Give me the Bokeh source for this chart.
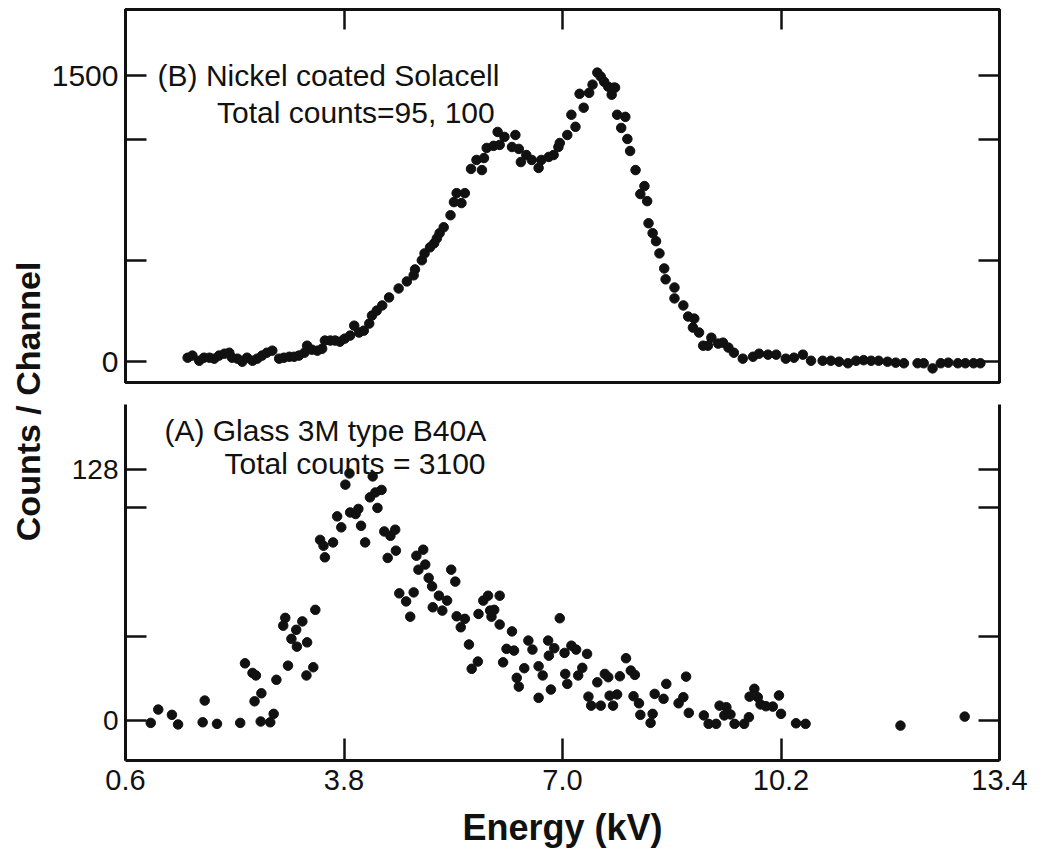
from math import pi
from bokeh.plotting import figure
from bokeh.models import (Range1d, LinearAxis, FixedTicker, Label,
                          CustomJSTickFormatter)
from bokeh.layouts import row, column
from bokeh.embed import file_html
from bokeh.resources import INLINE

# ---------------- data ----------------
x_ticks = [0.6, 3.8, 7.0, 10.2, 13.4]
x_tick_labels = ["0.6", "3.8", "7.0", "10.2", "13.4"]

top_y_ticks = [0, 532, 1164, 1500]
top_y_tick_labels = ["0", "", "", "1500"]
bottom_y_ticks = [0, 42.8, 108.7, 128]
bottom_y_tick_labels = ["0", "", "", "128"]

# (B) Nickel coated Solacell
top_energy = [1.51, 1.58, 1.68, 1.75, 1.83, 1.90, 1.97, 2.05, 2.12, 2.16, 2.24, 2.31, 2.38, 2.46,
              2.53, 2.60, 2.67, 2.75, 2.85, 2.92, 3.00, 3.07, 3.14, 3.22, 3.26, 3.33, 3.41, 3.48,
              3.52, 3.60, 3.67, 3.74, 3.81, 3.89, 3.95, 4.02, 4.09, 4.17, 4.21, 4.28, 4.36, 4.46,
              4.60, 4.72, 4.82, 4.84, 4.94, 4.98, 5.06, 5.12, 5.16, 5.20, 5.26, 5.36, 5.41, 5.45,
              5.52, 5.57, 5.66, 5.74, 5.82, 5.85, 5.89, 5.99, 6.05, 6.08, 6.15, 6.26, 6.31, 6.36,
              6.39, 6.47, 6.55, 6.65, 6.69, 6.80, 6.87, 6.94, 6.96, 7.07, 7.13, 7.19, 7.25, 7.31,
              7.39, 7.44, 7.51, 7.56, 7.61, 7.67, 7.72, 7.75, 7.77, 7.80, 7.86, 7.92, 7.95, 7.99,
              8.07, 8.14, 8.20, 8.24, 8.26, 8.32, 8.37, 8.42, 8.49, 8.51, 8.64, 8.64, 8.77, 8.84,
              8.91, 8.93, 9.00, 9.06, 9.13, 9.18, 9.28, 9.35, 9.43, 9.51, 9.64, 9.79, 9.88, 10.01,
              10.13, 10.27, 10.39, 10.52, 10.64, 10.81, 10.93, 11.05, 11.18, 11.30, 11.41, 11.52,
              11.63, 11.76, 11.88, 12.00, 12.20, 12.29, 12.42, 12.54, 12.65, 12.79, 12.90, 13.02,
              13.12]
top_counts = [21, 32, 5, 21, 21, 16, 32, 42, 47, 21, 16, 0, 21, 5,
              16, 32, 47, 58, 16, 21, 26, 26, 32, 47, 84, 63, 58, 68,
              111, 111, 111, 105, 121, 137, 189, 153, 163, 200, 242, 268, 295, 337,
              384, 421, 453, 484, 532, 568, 600, 621, 647, 674, 705, 768, 837, 884,
              832, 884, 1011, 1058, 1005, 1068, 1121, 1132, 1205, 1137, 1179, 1126, 1189, 1116,
              1047, 1084, 1058, 1016, 1058, 1074, 1084, 1126, 1147, 1189, 1295, 1232, 1405, 1332,
              1410, 1453, 1516, 1495, 1468, 1442, 1400, 1437, 1437, 1295, 1226, 1284, 1168, 1105,
              1005, 879, 921, 842, 726, 674, 632, 568, 489, 432, 389, 332, 295, 237,
              179, 226, 153, 84, 84, 126, 95, 100, 74, 47, 16, 26, 42, 37,
              37, 16, 21, 37, 5, 5, 5, 0, -8, 5, 8, 5,
              5, 0, -5, -8, -8, -8, -35, -8, -5, -8, -8, -8,
              -8]

# (A) Glass 3M type B40A
bottom_energy = [0.97, 1.08, 1.28, 1.37, 1.73, 1.76, 1.94, 2.28, 2.35, 2.46, 2.51, 2.49, 2.59, 2.58,
                 2.72, 2.77, 2.81, 2.91, 2.94, 2.98, 3.03, 3.10, 3.11, 3.19, 3.26, 3.25, 3.35, 3.38,
                 3.45, 3.50, 3.64, 3.52, 3.70, 3.76, 3.82, 3.88, 3.89, 3.97, 4.01, 4.05, 4.11, 4.22,
                 4.18, 4.26, 4.35, 4.29, 4.39, 4.48, 4.55, 4.44, 4.56, 4.61, 4.71, 4.82, 4.77, 4.86,
                 4.96, 4.89, 4.99, 5.04, 5.09, 5.10, 5.19, 5.31, 5.24, 5.37, 5.43, 5.45, 5.57, 5.51,
                 5.63, 5.67, 5.76, 5.77, 5.84, 5.91, 5.94, 6.00, 5.96, 6.08, 6.08, 6.13, 6.18, 6.29,
                 6.26, 6.33, 6.36, 6.50, 6.56, 6.44, 6.65, 6.71, 6.65, 6.79, 6.88, 6.80, 6.83, 6.96,
                 7.03, 7.13, 7.20, 7.36, 7.04, 7.07, 7.23, 7.29, 7.38, 7.42, 7.56, 7.51, 7.62, 7.67,
                 7.69, 7.80, 7.74, 7.84, 7.93, 8.00, 8.06, 8.04, 8.12, 8.14, 8.29, 8.32, 8.35, 8.48,
                 8.52, 8.70, 8.77, 8.81, 8.85, 9.07, 9.14, 9.25, 9.30, 9.40, 9.37, 9.46, 9.52, 9.66,
                 9.73, 9.74, 9.81, 9.86, 9.90, 9.98, 10.08, 10.17, 10.20, 10.42, 10.56, 11.95, 12.89]
bottom_counts = [-1.2, 5.6, 2.9, -2.0, -0.9, 10.2, -1.7, -1.2, 29.2, 24.3, 23.0, 9.8, 13.9, -0.5,
                 -0.9, 3.4, 20.8, 48.4, 52.4, 28.0, 41.7, 46.3, 37.7, 50.6, 39.9, 23.0, 27.2, 56.5,
                 92.2, 89.2, 90.9, 83.3, 104.2, 98.6, 120.4, 126.1, 106.2, 105.4, 108.0, 99.4, 90.9, 124.6,
                 113.9, 116.4, 117.7, 108.5, 96.5, 94.3, 97.4, 83.0, 86.7, 64.9, 60.8, 65.4, 53.0, 84.1,
                 87.2, 77.0, 79.6, 72.8, 68.5, 57.8, 63.7, 61.2, 56.1, 77.0, 70.9, 53.2, 51.9, 47.6,
                 38.8, 26.4, 30.1, 54.4, 61.2, 63.7, 56.1, 56.5, 53.0, 63.7, 49.0, 29.7, 36.6, 35.7,
                 45.5, 21.8, 17.3, 40.8, 36.2, 26.7, 27.7, 23.0, 11.6, 40.8, 36.9, 33.1, 15.8, 52.2,
                 34.5, 38.2, 36.2, 34.0, 23.8, 18.7, 23.0, 26.9, 12.2, 7.6, 7.6, 19.5, 23.8, 22.1,
                 12.7, 13.3, 7.6, 22.6, 31.8, 25.5, 23.3, 12.4, 8.8, 2.9, -1.2, 3.4, 13.6, 11.1,
                 18.7, 8.8, 11.9, 22.4, 3.9, 2.6, -1.7, -1.7, 7.6, 6.8, 2.6, 3.1, -1.7, -1.7,
                 1.7, 12.2, 16.2, 11.9, 8.2, 7.3, 7.1, 12.8, 3.4, -1.4, -1.7, -2.6, 2.0]

# ---------------- style ----------------
FONT = "Liberation Sans"
INK = "#111111"


def fmt(vals, labs):
    return CustomJSTickFormatter(
        args=dict(vals=vals, labs=labs),
        code="""
        for (let i = 0; i < vals.length; i++) {
            if (Math.abs(vals[i] - tick) < 1e-6) { return labs[i]; }
        }
        return "";
        """)


def style(ax, ticks, labels, size="30px", tick_len=21, standoff=7):
    ax.ticker = FixedTicker(ticks=ticks)
    ax.formatter = fmt(ticks, labels)
    ax.major_tick_in = tick_len
    ax.major_tick_out = 0
    ax.minor_tick_line_color = None
    ax.axis_line_width = 3
    ax.axis_line_color = INK
    ax.major_tick_line_width = 2.5
    ax.major_tick_line_color = INK
    ax.major_label_text_font = FONT
    ax.major_label_text_font_size = size
    ax.major_label_text_color = INK
    ax.major_label_standoff = standoff


def blank(ax, ticks, tick_len=21):
    style(ax, ticks, [""] * len(ticks), size="1px", tick_len=tick_len, standoff=0)


x_range = Range1d(x_ticks[0], x_ticks[-1])
LAB_W = 48
FIG_W = 992
TOP_H = 392
BOT_H = 461

# ---- top panel (B) ----
top = figure(width=FIG_W, height=TOP_H, x_range=x_range, y_range=Range1d(-109, 1847),
             output_backend="svg", toolbar_location=None,
             x_axis_location="above", y_axis_location="left",
             min_border_left=75, min_border_right=41, min_border_top=9, min_border_bottom=10,
             outline_line_color=INK, outline_line_width=3,
             background_fill_color="white", border_fill_color="white")
top.grid.visible = False
blank(top.xaxis[0], x_ticks[1:-1], tick_len=20)
style(top.yaxis[0], top_y_ticks, top_y_tick_labels, size="30px")
r_ax = LinearAxis()
blank(r_ax, top_y_ticks)
top.add_layout(r_ax, "right")
top.scatter(top_energy, top_counts, marker="circle", size=9.5, fill_color=INK, line_color=INK)
top.add_layout(Label(x=1.07, y=1500, text="(B) Nickel coated Solacell", text_font=FONT,
                     text_font_size="30px", text_color=INK, text_baseline="alphabetic"))
top.add_layout(Label(x=1.94, y=1305, text="Total counts=95, 100", text_font=FONT,
                     text_font_size="30px", text_color=INK, text_baseline="alphabetic"))

# ---- bottom panel (A) ----
bot = figure(width=FIG_W, height=BOT_H, x_range=x_range, y_range=Range1d(-20.4, 161.3),
             output_backend="svg", toolbar_location=None,
             x_axis_location="below", y_axis_location="left",
             min_border_left=75, min_border_right=41, min_border_top=12, min_border_bottom=93,
             outline_line_color=None,
             background_fill_color="white", border_fill_color="white")
bot.grid.visible = False
style(bot.xaxis[0], x_ticks, x_tick_labels, size="29px", tick_len=22, standoff=9)
bot.xaxis[0].axis_label = "Energy (kV)"
bot.xaxis[0].axis_label_text_font = FONT
bot.xaxis[0].axis_label_text_font_style = "bold"
bot.xaxis[0].axis_label_text_font_size = "36px"
bot.xaxis[0].axis_label_text_color = INK
bot.xaxis[0].axis_label_standoff = 14
style(bot.yaxis[0], bottom_y_ticks, bottom_y_tick_labels, size="28px")
r_ax2 = LinearAxis()
blank(r_ax2, bottom_y_ticks)
bot.add_layout(r_ax2, "right")
bot.scatter(bottom_energy, bottom_counts, marker="circle", size=9.5, fill_color=INK, line_color=INK)
bot.add_layout(Label(x=1.17, y=148, text="(A) Glass 3M type B40A", text_font=FONT,
                     text_font_size="30px", text_color=INK, text_baseline="alphabetic"))
bot.add_layout(Label(x=2.05, y=131, text="Total counts = 3100", text_font=FONT,
                     text_font_size="30px", text_color=INK, text_baseline="alphabetic"))

# ---- shared y label ----
lab = figure(width=LAB_W, height=TOP_H + BOT_H, x_range=Range1d(0, 1), y_range=Range1d(0, 1),
             output_backend="svg", toolbar_location=None,
             x_axis_location=None, y_axis_location=None, min_border=0,
             outline_line_color=None, background_fill_color="white", border_fill_color="white")
lab.grid.visible = False
lab.add_layout(Label(x=0.583, y=0.530, text="Counts / Channel", angle=pi / 2,
                     text_align="center", text_baseline="middle", text_font=FONT,
                     text_font_style="bold", text_font_size="34px", text_color=INK))

p = row(lab, column(top, bot))
open("out.html", "w").write(file_html(p, INLINE))
